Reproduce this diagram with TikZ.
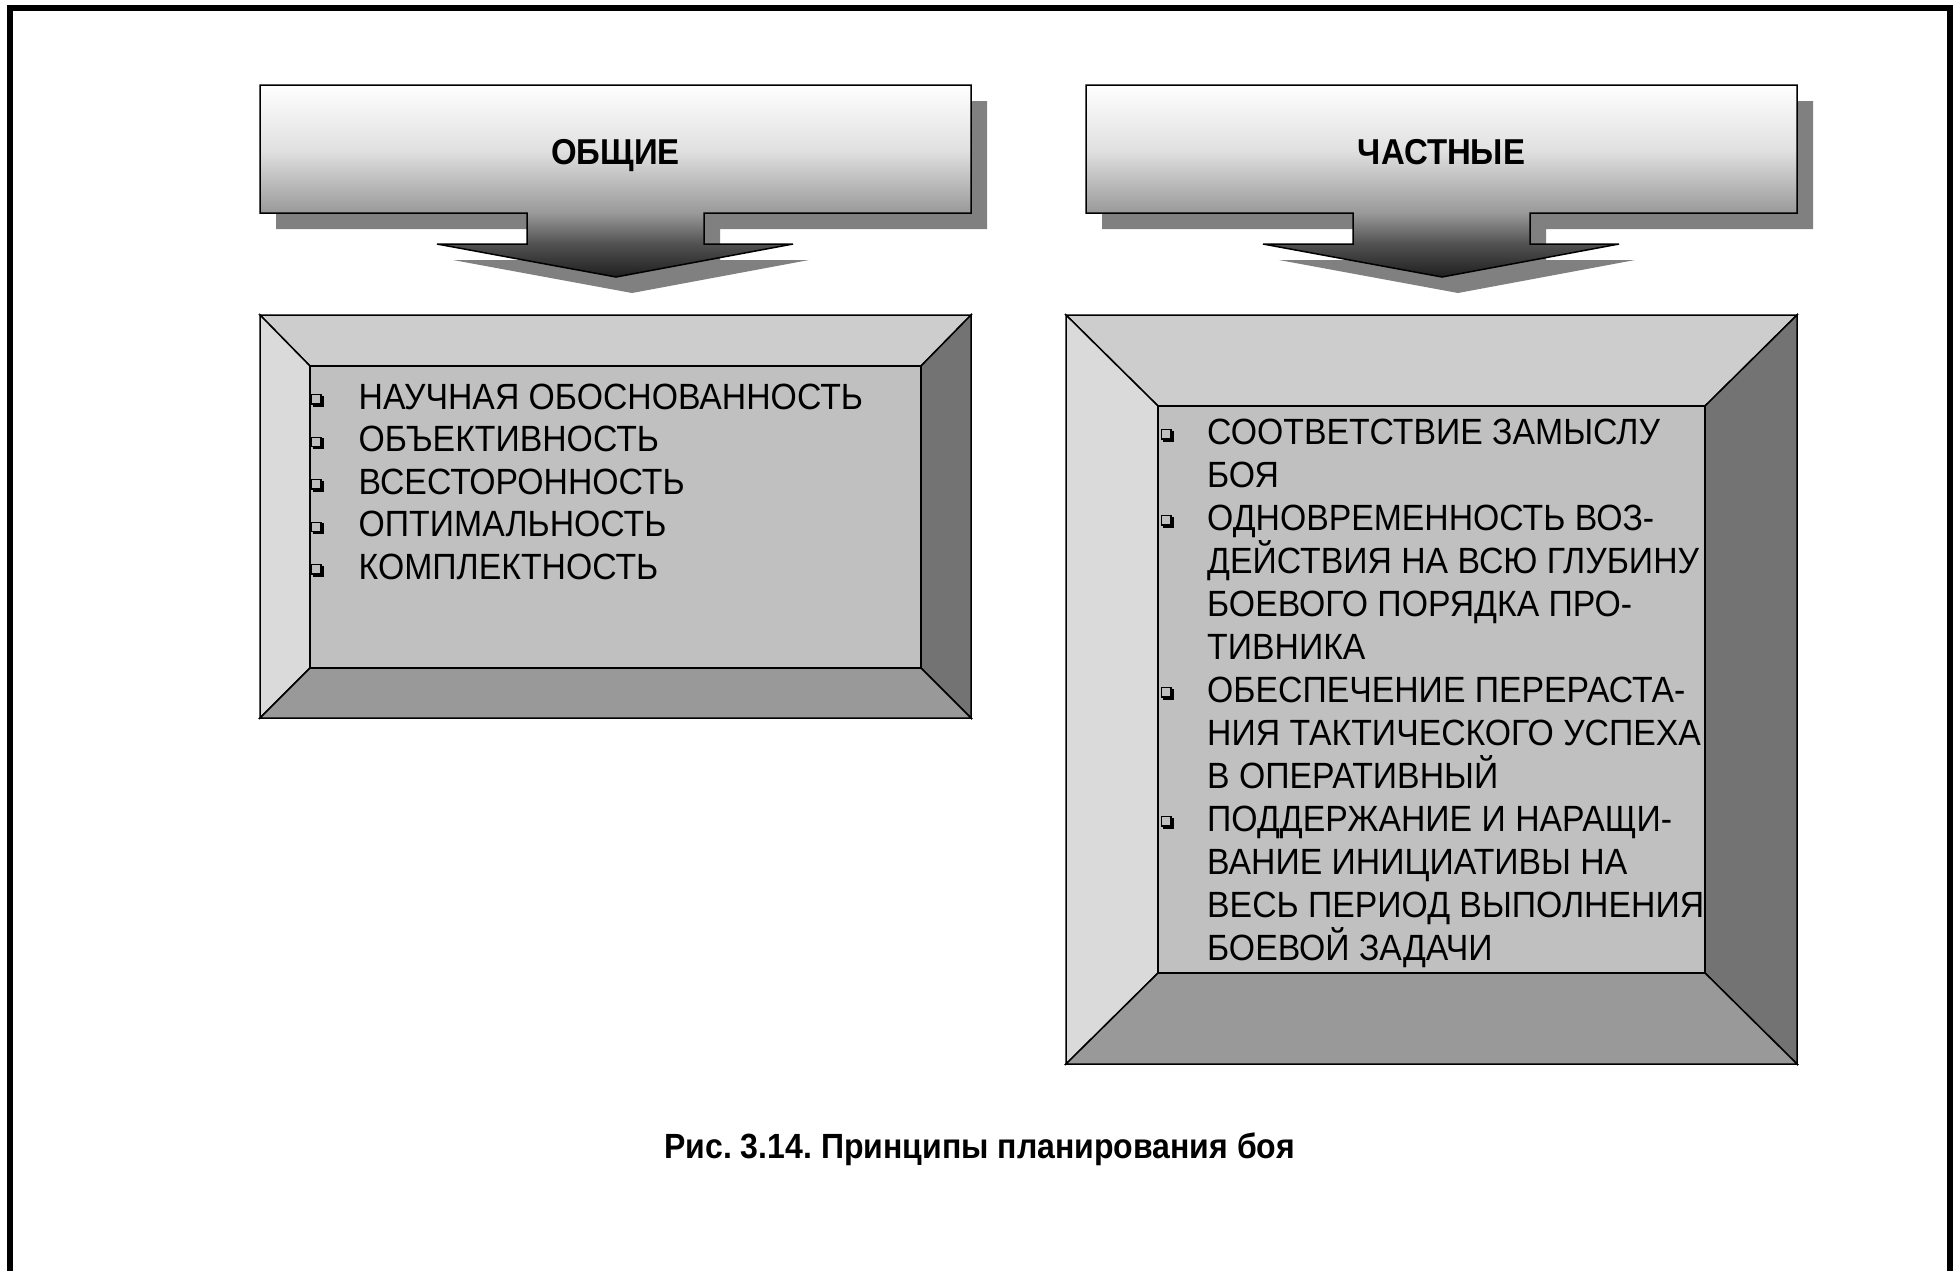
\documentclass[tikz,border=0pt]{standalone}
\usepackage{fontspec}
\setmainfont{Liberation Sans}
\newfontfamily\itemfont[FakeStretch=0.925]{Liberation Sans}
\newfontfamily\headfont[FakeStretch=0.915]{Liberation Sans}
\frenchspacing
\definecolor{shadowgray}{HTML}{808080}
\definecolor{bevtop}{HTML}{CDCDCD}
\definecolor{bevleft}{HTML}{DADADA}
\definecolor{bevright}{HTML}{737373}
\definecolor{bevbottom}{HTML}{999999}
\definecolor{bevface}{HTML}{C0C0C0}
\pgfdeclareverticalshading{calloutshade}{100bp}{rgb(0bp)=(0.12,0.12,0.12); rgb(25bp)=(0.12,0.12,0.12); rgb(33.6bp)=(0.32,0.32,0.32); rgb(41.7bp)=(0.6,0.6,0.6); rgb(58bp)=(0.88,0.88,0.88); rgb(75bp)=(1,1,1); rgb(100bp)=(1,1,1)}
\newcommand\mycallout[1]{%
  \begin{scope}[xshift=#1]
    \fill[shadowgray] (276,101) -- (987,101) -- (987,229) -- (720,229) -- (720,260) -- (809,260) -- (632,293) -- (453,260) -- (543,260) -- (543,229) -- (276,229) -- cycle;
    \shade[shading=calloutshade] (260,85) -- (971,85) -- (971,213) -- (704,213) -- (704,244) -- (793,244) -- (616,277) -- (437,244) -- (527,244) -- (527,213) -- (260,213) -- cycle;
    \draw[outl] (260,85) -- (971,85) -- (971,213) -- (704,213) -- (704,244) -- (793,244) -- (616,277) -- (437,244) -- (527,244) -- (527,213) -- (260,213) -- cycle;
  \end{scope}}
\newcommand\mybevel[8]{% outer x1 y1 x2 y2, inner x1 y1 x2 y2
  \filldraw[outl,fill=bevtop] (#1,#2) -- (#3,#2) -- (#7,#6) -- (#5,#6) -- cycle;
  \filldraw[outl,fill=bevleft] (#1,#2) -- (#5,#6) -- (#5,#8) -- (#1,#4) -- cycle;
  \filldraw[outl,fill=bevright] (#3,#2) -- (#3,#4) -- (#7,#8) -- (#7,#6) -- cycle;
  \filldraw[outl,fill=bevbottom] (#1,#4) -- (#3,#4) -- (#7,#8) -- (#5,#8) -- cycle;
  \filldraw[outl,fill=bevface] (#5,#6) rectangle (#7,#8);}
\begin{document}
\begin{tikzpicture}[x=1pt,y=-1pt,
  outl/.style={draw=black,line width=1.5pt,line join=miter},
  itemtext/.style={font=\itemfont\fontsize{36.5}{42}\selectfont, inner sep=0pt, anchor=base west},
  titletext/.style={font=\headfont\bfseries\fontsize{36}{42}\selectfont, inner sep=0pt, anchor=base},
  captext/.style={font=\headfont\bfseries\fontsize{35}{42}\selectfont, inner sep=0pt, anchor=base},
  sqbullet/.pic={\draw[line width=1.4pt] (0.7,0.7) rectangle (10,10);
                 \draw[line width=2.6pt] (1.5,11.3) -- (11.3,11.3) -- (11.3,1.5);}]
\useasboundingbox (0,0) rectangle (1959,1270);
\fill[white] (0,0) rectangle (1959,1270);
% frame
\draw[line width=6.5pt,line join=miter] (10,1280) -- (10,8) -- (1950,8) -- (1950,1280);
% callouts
\mycallout{0}
\mycallout{826}
\node[titletext] (t1) at (615.5,164) {ОБЩИЕ};
\node[titletext] (t2) at (1441.5,164) {ЧАСТНЫЕ};
% bevel boxes
\mybevel{260}{315}{971}{718}{310}{366}{921}{668}
\mybevel{1066}{315}{1797}{1064}{1158}{406}{1705}{973}
% left items
\foreach \yy in {409,451.5,494,536.5,579} \pic at (311,\yy-15) {sqbullet};
\node[itemtext] (l1) at (358.5,409) {НАУЧНАЯ ОБОСНОВАННОСТЬ};
\node[itemtext] (l2) at (358.5,451.5) {ОБЪЕКТИВНОСТЬ};
\node[itemtext] (l3) at (358.5,494) {ВСЕСТОРОННОСТЬ};
\node[itemtext] (l4) at (358.5,536.5) {ОПТИМАЛЬНОСТЬ};
\node[itemtext] (l5) at (358.5,579) {КОМПЛЕКТНОСТЬ};
% right items
\foreach \yy in {444,530,702,831} \pic at (1161,\yy-15) {sqbullet};
\node[itemtext] (r1) at (1207,444) {СООТВЕТСТВИЕ ЗАМЫСЛУ};
\node[itemtext] (r2) at (1207,487) {БОЯ};
\node[itemtext] (r3) at (1207,530) {ОДНОВРЕМЕННОСТЬ ВОЗ-};
\node[itemtext] (r4) at (1207,573) {ДЕЙСТВИЯ НА ВСЮ ГЛУБИНУ};
\node[itemtext] (r5) at (1207,616) {БОЕВОГО ПОРЯДКА ПРО-};
\node[itemtext] (r6) at (1207,659) {ТИВНИКА};
\node[itemtext] (r7) at (1207,702) {ОБЕСПЕЧЕНИЕ ПЕРЕРАСТА-};
\node[itemtext] (r8) at (1207,745) {НИЯ ТАКТИЧЕСКОГО УСПЕХА};
\node[itemtext] (r9) at (1207,788) {В ОПЕРАТИВНЫЙ};
\node[itemtext] (r10) at (1207,831) {ПОДДЕРЖАНИЕ И НАРАЩИ-};
\node[itemtext] (r11) at (1207,874) {ВАНИЕ ИНИЦИАТИВЫ НА};
\node[itemtext] (r12) at (1207,917) {ВЕСЬ ПЕРИОД ВЫПОЛНЕНИЯ};
\node[itemtext] (r13) at (1207,960) {БОЕВОЙ ЗАДАЧИ};
% caption
\node[captext] (cap) at (979.5,1158) {Рис. 3.14. Принципы планирования боя};
\end{tikzpicture}
\end{document}
